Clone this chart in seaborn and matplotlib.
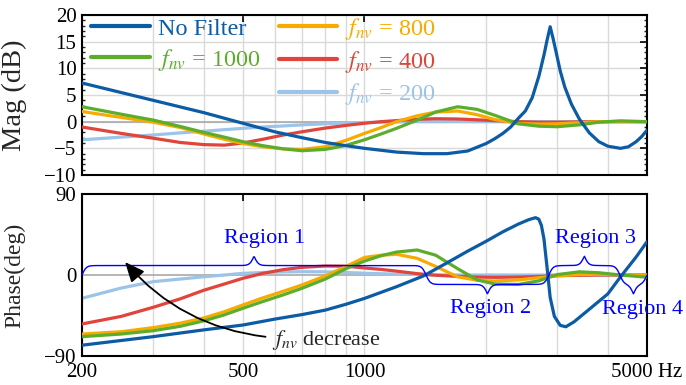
import numpy as np
import pandas as pd
import matplotlib
matplotlib.use('Agg')
import matplotlib.pyplot as plt
import seaborn as sns
from matplotlib.lines import Line2D
from matplotlib.patches import FancyArrowPatch
from matplotlib.transforms import blended_transform_factory
from matplotlib.ticker import FixedLocator, NullFormatter, MultipleLocator

# ---------------- data ----------------
# No filter: magnitude (dB)
freq_nf_mag = [200, 300, 400, 500, 600, 700, 800, 900, 1000, 1200, 1400, 1600, 1800, 2000,
               2100, 2200, 2300, 2400, 2500, 2600, 2700, 2780, 2830, 2880, 2930, 2980, 3050,
               3130, 3250, 3400, 3600, 3800, 4000, 4300, 4500, 4700, 4850, 5000]
mag_nf = [7.25, 4.0, 1.7, -0.3, -1.9, -3.0, -3.9, -4.5, -5.0, -5.7, -6.0, -6.0, -5.5, -4.1,
          -3.2, -2.2, -1.0, 0.6, 2.0, 4.5, 8.5, 12.5, 15.3, 17.8, 15.5, 13.0, 9.5,
          6.5, 3.3, 0.5, -2.1, -3.75, -4.6, -5.0, -4.7, -3.75, -2.8, -1.6]
# No filter: phase (deg)
freq_nf_ph = [200, 300, 400, 500, 600, 700, 800, 900, 1000, 1200, 1400, 1600, 1800, 2000,
              2200, 2400, 2550, 2650, 2700, 2740, 2780, 2830, 2880, 2950, 3050, 3150, 3300, 3600,
              4000, 4300, 4700, 5000]
phase_nf = [-78, -68.5, -61, -55.6, -49, -44, -39, -32.5, -26, -13, -1, 13.5, 26.5, 37.5,
            48, 56.5, 61.5, 63.7, 62, 55, 40, 8, -25, -46, -56, -57.5, -52, -38,
            -21, -2, 20, 37]

# filtered curves share one frequency grid
freq = [200, 250, 300, 350, 400, 450, 500, 560, 630, 700, 800, 900, 1000, 1100, 1200,
        1350, 1500, 1700, 1900, 2100, 2400, 2700, 3000, 3400, 3800, 4300, 5000]
mag_1000 = [2.8, 1.4, 0.3, -0.9, -2.0, -2.9, -3.75, -4.5, -5.1, -5.45, -5.2, -4.45, -3.4, -2.3, -1.25,
            0.3, 1.8, 2.8, 2.3, 1.2, -0.4, -0.85, -0.95, -0.6, -0.1, 0.15, 0.0]
mag_800 = [1.9, 0.8, -0.1, -1.1, -2.3, -3.3, -4.1, -4.7, -5.1, -5.2, -4.7, -3.5, -2.2, -1.1, 0.0,
           1.1, 1.8, 2.0, 1.3, 0.4, -0.35, -0.45, -0.4, -0.2, 0.0, 0.05, 0.0]
mag_400 = [-1.0, -2.2, -3.1, -3.9, -4.3, -4.4, -4.0, -3.3, -2.5, -1.9, -1.2, -0.7, -0.3, 0.0, 0.2,
           0.45, 0.55, 0.5, 0.35, 0.2, 0.0, -0.1, -0.1, -0.05, 0.0, 0.0, 0.0]
mag_200 = [-3.4, -2.9, -2.5, -2.1, -1.8, -1.5, -1.25, -1.0, -0.8, -0.6, -0.4, -0.25, -0.15, -0.1, -0.05,
           0.0, 0.0, 0.0, 0.0, 0.0, 0.0, 0.0, 0.0, 0.0, 0.0, 0.0, 0.0]
ph_1000 = [-68.5, -65.6, -61.9, -57, -51, -44.3, -37, -29.5, -22, -14.8, -4.5, 7, 15.5, 21.5, 25.5,
           27.8, 22, 7, -5.5, -10, -10.5, -6.5, 0.5, 3.5, 2.5, 0.0, -2.5]
ph_800 = [-65.6, -63, -58.5, -53.5, -47.8, -40.8, -33.3, -25.5, -18, -11.1, -1.0, 9.5, 19.5, 22, 23,
          18.5, 9.5, -2, -5.8, -6.7, -5.5, -3, -1, 0.5, 0.8, 0.3, 0.0]
ph_400 = [-54.4, -46, -35.9, -26.5, -17, -10, -3.7, 1.8, 6.0, 8.5, 10.0, 9.8, 7.8, 6.2, 4.3,
          1.5, -0.3, -1.5, -2.3, -2.6, -2.3, -1.7, -0.8, -0.3, 0.0, 0.0, 0.0]
ph_200 = [-25.9, -14.5, -7.4, -4.5, -2.0, 0.0, 1.8, 2.8, 3.4, 3.7, 3.5, 2.8, 2.0, 1.4, 1.0,
          0.5, 0.2, 0.0, 0.0, 0.0, 0.0, 0.0, 0.0, 0.0, 0.0, 0.0, 0.0]

labels = ['No Filter', r'$f_{nv}$ = 1000', r'$f_{nv}$ = 800', r'$f_{nv}$ = 400', r'$f_{nv}$ = 200']
colors = ['#0b5ba5', '#5dad2c', '#f7ab00', '#e0443a', '#9bc4e8']

x_ticks = [200, 500, 1000, 5000]
x_ticklabels = ['200', '500', '1000', '5000 Hz']
x_minor = [300, 400, 600, 700, 800, 900, 2000, 3000, 4000]

regions = ['Region 1', 'Region 2', 'Region 3', 'Region 4']
region_edges = [(200, 1420), (1420, 2858), (2858, 4284), (4284, 5000)]
region_dir = [1, -1, 1, -1]

# ---------------- style ----------------
sns.set_theme(style='white')
plt.rcParams['font.family'] = ['Liberation Serif', 'DejaVu Serif']
plt.rcParams['mathtext.fontset'] = 'stix'

fig = plt.figure(figsize=(6.86, 3.85), dpi=100)
W, H = 686, 385
ax1 = fig.add_axes([82 / W, 1 - 175 / H, 565 / W, 160 / H])
ax2 = fig.add_axes([82 / W, 1 - 356 / H, 565 / W, 162 / H])

mag_series = [(freq_nf_mag, mag_nf), (freq, mag_1000), (freq, mag_800), (freq, mag_400), (freq, mag_200)]
ph_series = [(freq_nf_ph, phase_nf), (freq, ph_1000), (freq, ph_800), (freq, ph_400), (freq, ph_200)]
zorders = [6, 5, 4, 3, 2]

for (fx, fy), c, z in zip(mag_series, colors, zorders):
    df = pd.DataFrame({'f': fx, 'v': fy})
    sns.lineplot(data=df, x='f', y='v', ax=ax1, color=c, linewidth=2.3, zorder=z, legend=False)
for (fx, fy), c, z in zip(ph_series, colors, zorders):
    df = pd.DataFrame({'f': fx, 'v': fy})
    sns.lineplot(data=df, x='f', y='v', ax=ax2, color=c, linewidth=2.3, zorder=z, legend=False)

for ax in (ax1, ax2):
    ax.set_xscale('log')
    ax.set_xlim(200, 5000)
    ax.xaxis.set_major_locator(FixedLocator(x_ticks))
    ax.xaxis.set_minor_locator(FixedLocator(x_minor))
    ax.xaxis.set_minor_formatter(NullFormatter())
    ax.set_xticklabels(x_ticklabels)
    ax.grid(which='both', axis='x', color='#d9d9d9', lw=1.0)
    ax.set_axisbelow(True)
    ax.axhline(0, color='#a9a9a9', lw=1.2, zorder=1)
    ax.tick_params(which='major', direction='in', top=True, right=True, length=5, width=1.2,
                   labelsize=15, pad=4, colors='black')
    ax.tick_params(axis='x', which='minor', length=0)
    for s in ax.spines.values():
        s.set_color('black')
        s.set_linewidth(1.5)
    ax.set_xlabel('')

ax1.set_ylim(-10, 20)
ax1.yaxis.set_major_locator(MultipleLocator(5))
ax1.yaxis.set_minor_locator(MultipleLocator(1))
ax1.tick_params(axis='y', which='minor', direction='in', left=True, right=True, length=2.5, width=1.0)
ax1.grid(which='major', axis='y', color='#d9d9d9', lw=1.0)
ax1.tick_params(axis='x', labelbottom=False)
ax1.set_ylabel('Mag (dB)', fontsize=20.5)
ax1.yaxis.set_label_coords(-0.097, 0.5)

ax2.set_ylim(-90, 90)
ax2.set_yticks([-90, 0, 90])
ax2.tick_params(axis='x', pad=5)
ax2.set_ylabel('Phase(deg)', fontsize=17)
ax2.yaxis.set_label_coords(-0.1, 0.5)
for lab in ax2.get_xticklabels():
    lab.set_fontsize(15)

# legend
handles = [Line2D([], [], color=colors[0], lw=3),
           Line2D([], [], color=colors[1], lw=3),
           Line2D([], [], color='none', lw=0),
           Line2D([], [], color=colors[2], lw=3),
           Line2D([], [], color=colors[3], lw=3),
           Line2D([], [], color=colors[4], lw=3)]
leg_labels = [labels[0], labels[1], '', labels[2], labels[3], labels[4]]
leg_colors = [colors[0], colors[1], 'none', colors[2], colors[3], colors[4]]
leg = ax1.legend(handles, leg_labels, ncol=2, loc='upper left', bbox_to_anchor=(0.012, 1.01),
                 frameon=False, fontsize=17.5, handlelength=2.4, handletextpad=0.33,
                 columnspacing=0.75, labelspacing=0.28, borderpad=0.1, borderaxespad=0)
for t, c in zip(leg.get_texts(), leg_colors):
    t.set_color(c)

# braces for regions
trans = blended_transform_factory(ax2.transAxes, ax2.transData)
def frac(f):
    return np.log10(f / 200.0) / np.log10(5000 / 200.0)

blue = '#0000ff'
for (f0, f1), d in zip(region_edges, region_dir):
    a0, a1 = frac(f0), frac(f1)
    L = a1 - a0
    s = np.linspace(0, L, 500)
    u = np.minimum(s, L - s)
    w = 0.0075
    y = (np.tanh(u / w) + 1 + np.tanh((u - L / 2) / w)) / 2 * 21 * d
    ax2.plot(a0 + s, y, color=blue, lw=1.0, transform=trans, zorder=10, clip_on=False)

ax2.text(566, 41, regions[0], color=blue, fontsize=16, ha='center', va='center', zorder=11)
ax2.text(2056, -37, regions[1], color=blue, fontsize=16, ha='center', va='center', zorder=11)
ax2.text(3720, 41, regions[2], color=blue, fontsize=16, ha='center', va='center', zorder=11)
ax2.text(3880, -38, regions[3], color=blue, fontsize=16, ha='left', va='center', zorder=11,
         clip_on=False)

# arrow and annotation
arr = FancyArrowPatch(posA=(578, -69), posB=(253, 16.7), arrowstyle='-|>,head_length=0.8,head_width=0.35',
                      mutation_scale=15, connectionstyle='arc3,rad=-0.2', color='black', lw=1.3,
                      zorder=12)
ax2.add_patch(arr)
ax2.text(590, -72, r'$f_{nv}$ decrease', fontsize=16, ha='left', va='center', zorder=12)

fig.savefig('out.png', dpi=100)
